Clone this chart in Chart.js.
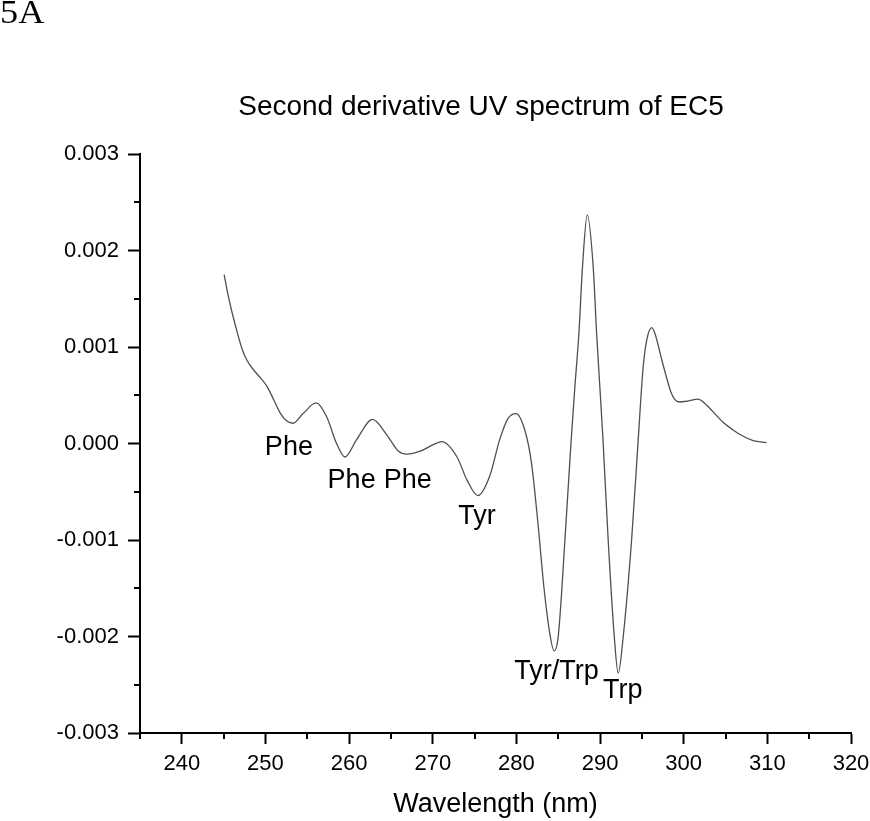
<!DOCTYPE html>
<html>
<head>
<meta charset="utf-8">
<script src="https://cdn.jsdelivr.net/npm/chart.js@4.4.1/dist/chart.umd.min.js"></script>
<style>
  html, body { margin: 0; padding: 0; background: #fff; }
  #wrap { position: relative; width: 870px; height: 821px; }
  #panel { position: absolute; left: 0px; top: -6px; font-family: "Liberation Serif", "Times New Roman", serif; font-size: 33px; color: #000; transform: scaleX(1.1); transform-origin: 0 0; }
</style>
</head>
<body>
<div id="wrap">
  <canvas id="c" width="870" height="821"></canvas>
  <div id="panel">5A</div>
</div>
<script>
// ---- data ----
const wavelength = [
  245.06, 245.5, 246.0, 246.6, 247.2, 247.8, 248.6, 249.4, 250.2, 251.0,
  251.8, 252.6, 253.3, 254.5, 256.05, 257.3, 258.5, 259.5, 260.9, 262.8,
  264.5, 265.9, 266.9, 268.5, 270.1, 271.1, 272.9, 274.1, 275.4, 276.8,
  278.0, 279.0, 279.95, 281.0, 281.8, 282.6, 283.3, 284.05, 284.5, 285.0,
  285.8, 286.55, 287.0, 287.47, 287.9, 288.47, 289.18, 289.59, 290.0, 290.35,
  290.97, 291.7, 292.17, 292.77, 293.77, 294.56, 295.16, 295.6, 296.19, 296.6,
  297.0, 297.4, 297.9, 298.4, 298.9, 299.5, 300.5, 301.7, 302.6, 303.5,
  304.7, 305.9, 307.0, 308.3, 309.9
];
const secondDerivative = [
  0.00175, 0.00155, 0.00136, 0.00116, 0.00098, 0.00086, 0.00076, 0.00068, 0.00059, 0.00045,
  0.00031, 0.00023, 0.00021, 0.00031, 0.00042, 0.00028, 0.00000, -0.00014, 0.00004, 0.00025,
  0.00009, -0.00008, -0.00011, -0.00008, -0.00001, 0.00002, -0.00014, -0.00038, -0.00054, -0.00034,
  0.00004, 0.00026, 0.00031, 0.00014, -0.00020, -0.00085, -0.00150, -0.00200, -0.00215, -0.00200,
  -0.00100, 0.00004, 0.00060, 0.00114, 0.00183, 0.00237, 0.00183, 0.00114, 0.00055, 0.00004,
  -0.00100, -0.00200, -0.00238, -0.00200, -0.00100, 0.00004, 0.00080, 0.00108, 0.00120, 0.00113,
  0.00100, 0.00086, 0.00070, 0.00055, 0.00046, 0.00043, 0.00044, 0.00046, 0.00041, 0.00033,
  0.00022, 0.00014, 0.00008, 0.00003, 0.00001
];
const xMajorTicks = [240, 250, 260, 270, 280, 290, 300, 310, 320];
const xMinorTicks = [235, 245, 255, 265, 275, 285, 295, 305, 315];
const yMajorTicks = [-0.003, -0.002, -0.001, 0.000, 0.001, 0.002, 0.003];
const yMinorTicks = [-0.0025, -0.0015, -0.0005, 0.0005, 0.0015, 0.0025];
const peakLabels = ['Phe', 'Phe', 'Phe', 'Tyr', 'Tyr/Trp', 'Trp'];
const peakLabelX = [252.8, 260.3, 267.0, 275.3, 284.8, 292.7];
const peakLabelY = [-0.00004, -0.000385, -0.000385, -0.000755, -0.00236, -0.00256];
const chartTitle = 'Second derivative UV spectrum of EC5';
const xTitle = 'Wavelength (nm)';

const FONT = '"Liberation Sans", Arial, sans-serif';

const points = wavelength.map((w, i) => ({ x: w, y: secondDerivative[i] }));

const extras = {
  id: 'extras',
  afterDraw(chart) {
    const ctx = chart.ctx;
    const xs = chart.scales.x, ys = chart.scales.y;
    const area = chart.chartArea;
    ctx.save();
    // minor ticks
    ctx.strokeStyle = '#000';
    ctx.lineWidth = 2;
    ctx.beginPath();
    xMinorTicks.forEach(v => {
      const px = Math.round(xs.getPixelForValue(v));
      ctx.moveTo(px, area.bottom);
      ctx.lineTo(px, area.bottom + 6);
    });
    yMinorTicks.forEach(v => {
      const py = Math.round(ys.getPixelForValue(v));
      ctx.moveTo(area.left, py);
      ctx.lineTo(area.left - 6, py);
    });
    ctx.stroke();
    // peak annotations
    ctx.fillStyle = '#000';
    ctx.font = '27px ' + FONT;
    ctx.textAlign = 'center';
    ctx.textBaseline = 'middle';
    peakLabels.forEach((t, i) => {
      ctx.fillText(t, xs.getPixelForValue(peakLabelX[i]), ys.getPixelForValue(peakLabelY[i]));
    });
    // chart title
    ctx.font = '28px ' + FONT;
    ctx.fillText(chartTitle, 481, 107);
    ctx.restore();
  }
};

new Chart(document.getElementById('c'), {
  type: 'line',
  data: {
    datasets: [{
      data: points,
      borderColor: '#505050',
      borderWidth: 1.3,
      pointRadius: 0,
      fill: false,
      cubicInterpolationMode: 'monotone'
    }]
  },
  options: {
    responsive: false,
    animation: false,
    layout: { padding: { left: 0, right: 19, top: 154, bottom: 0 } },
    plugins: {
      legend: { display: false },
      tooltip: { enabled: false },
      title: { display: false }
    },
    scales: {
      x: {
        type: 'linear',
        min: 235,
        max: 320,
        afterBuildTicks: s => { s.ticks = xMajorTicks.map(v => ({ value: v })); },
        afterFit: s => { s.height = 88; s.paddingLeft = 0; s.paddingRight = 0; },
        border: { display: true, color: '#000', width: 2 },
        grid: { display: true, drawOnChartArea: false, drawTicks: true, tickLength: 11, tickWidth: 2, tickColor: '#000' },
        ticks: { color: '#000', font: { family: FONT, size: 22 }, padding: 7, maxRotation: 0, autoSkip: false },
        title: { display: true, text: xTitle, color: '#000', font: { family: FONT, size: 27 }, padding: { top: 0, bottom: 0 } }
      },
      y: {
        type: 'linear',
        min: -0.003,
        max: 0.003,
        afterBuildTicks: s => { s.ticks = yMajorTicks.map(v => ({ value: v })); },
        afterFit: s => { s.width = 140; s.paddingTop = 0; s.paddingBottom = 0; },
        border: { display: true, color: '#000', width: 2 },
        grid: { display: true, drawOnChartArea: false, drawTicks: true, tickLength: 12, tickWidth: 2, tickColor: '#000' },
        ticks: { color: '#000', font: { family: FONT, size: 22 }, padding: 9, autoSkip: false,
                 callback: v => (Math.abs(v) < 1e-9 ? 0 : v).toFixed(3) }
      }
    }
  },
  plugins: [extras]
});
</script>
</body>
</html>
